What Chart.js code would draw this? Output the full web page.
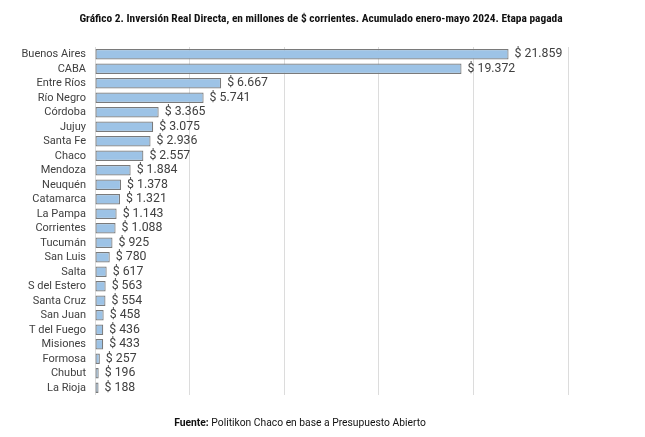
<!DOCTYPE html>
<html>
<head>
<meta charset="utf-8">
<script src="https://cdn.jsdelivr.net/npm/chart.js@4/dist/chart.umd.min.js"></script>
<style>
  html, body { margin: 0; padding: 0; background: #fff; }
  #wrap { width: 645px; height: 437px; position: relative; }
</style>
</head>
<body>
<div id="wrap"><canvas id="iedChart"></canvas></div>
<script>
const provincias = ['Buenos Aires', 'CABA', 'Entre Ríos', 'Río Negro', 'Córdoba', 'Jujuy', 'Santa Fe', 'Chaco',
  'Mendoza', 'Neuquén', 'Catamarca', 'La Pampa', 'Corrientes', 'Tucumán', 'San Luis', 'Salta',
  'S del Estero', 'Santa Cruz', 'San Juan', 'T del Fuego', 'Misiones', 'Formosa', 'Chubut', 'La Rioja'];
const montos = [21859, 19372, 6667, 5741, 3365, 3075, 2936, 2557,
  1884, 1378, 1321, 1143, 1088, 925, 780, 617,
  563, 554, 458, 436, 433, 257, 196, 188];
const titulo = 'Gráfico 2. Inversión Real Directa, en millones de $ corrientes. Acumulado enero-mayo 2024. Etapa pagada';
const fuenteBold = 'Fuente:';
const fuenteTexto = ' Politikon Chaco en base a Presupuesto Abierto';

const FONT = 'Roboto, "Liberation Sans", sans-serif';
const FONT_TIT = '"Roboto Condensed", "Liberation Sans Narrow", Roboto, sans-serif';

// formato con punto de miles
function pesos(v) {
  return '$ ' + v.toString().replace(/\B(?=(\d{3})+(?!\d))/g, '.');
}

const textos = {
  id: 'textos',
  afterDatasetsDraw(chart) {
    const ctx = chart.ctx;
    const meta = chart.getDatasetMeta(0);
    ctx.save();
    ctx.font = '12.3px ' + FONT;
    ctx.fillStyle = '#404040';
    ctx.textBaseline = 'middle';
    ctx.textAlign = 'left';
    meta.data.forEach((bar, i) => {
      ctx.fillText(pesos(montos[i]), bar.x + 6, bar.y);
    });
    ctx.restore();
  },
  afterDraw(chart) {
    const ctx = chart.ctx;
    ctx.save();
    ctx.fillStyle = '#111';
    ctx.textBaseline = 'middle';
    ctx.textAlign = 'center';
    ctx.font = 'bold 11.4px ' + FONT_TIT;
    ctx.fillText(titulo, 321, 19);

    ctx.textAlign = 'left';
    ctx.font = 'bold 10.3px ' + FONT;
    const wb = ctx.measureText(fuenteBold).width;
    ctx.font = '10.3px ' + FONT;
    const wt = ctx.measureText(fuenteTexto).width;
    const x0 = 300 - (wb + wt) / 2;
    ctx.font = 'bold 10.3px ' + FONT;
    ctx.fillText(fuenteBold, x0, 423);
    ctx.font = '10.3px ' + FONT;
    ctx.fillText(fuenteTexto, x0 + wb, 423);
    ctx.restore();
  }
};

const ctx = document.getElementById('iedChart').getContext('2d');
new Chart(ctx, {
  type: 'bar',
  data: {
    labels: provincias,
    datasets: [{
      data: montos,
      backgroundColor: '#9DC3E6',
      borderColor: '#7a7a7a',
      borderWidth: 1.2,
      borderSkipped: false,
      inflateAmount: 0,
      barPercentage: 0.72,
      categoryPercentage: 1
    }]
  },
  options: {
    indexAxis: 'y',
    responsive: true,
    maintainAspectRatio: false,
    animation: false,
    layout: { padding: { left: 0, top: 47, right: 77, bottom: 42 } },
    plugins: { legend: { display: false }, tooltip: { enabled: false } },
    scales: {
      x: {
        min: 0,
        max: 25000,
        ticks: { display: false, stepSize: 5000 },
        grid: { color: '#dcdcdc', drawTicks: false },
        border: { display: false }
      },
      y: {
        afterFit(scale) { scale.width = 95; },
        ticks: { color: '#404040', font: { family: FONT, size: 11 }, padding: 9, autoSkip: false },
        grid: { display: false, drawTicks: false },
        border: { display: false }
      }
    }
  },
  plugins: [textos]
});
</script>
</body>
</html>
